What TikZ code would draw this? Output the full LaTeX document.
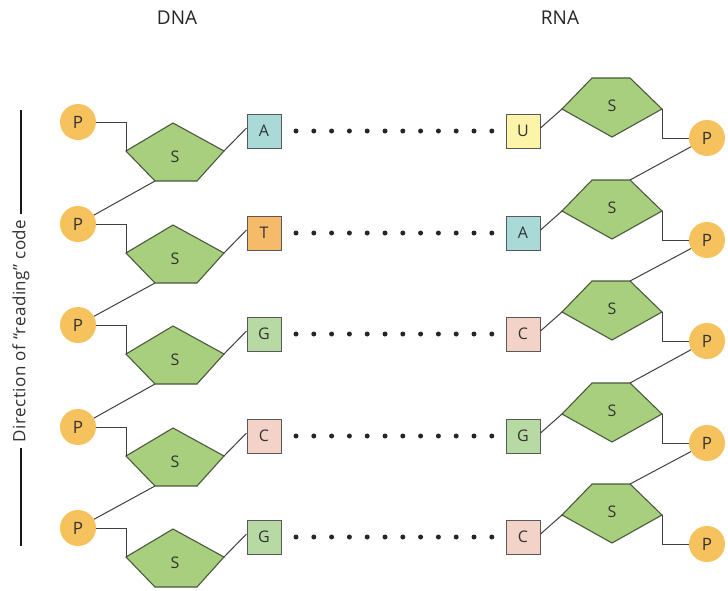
\documentclass[tikz,border=0pt]{standalone}
\usepackage{fontspec}
\setmainfont{Open Sans}
\begin{document}
\begin{tikzpicture}[x=1pt,y=-1pt,
  pcirc/.style={circle,fill=pOrange,minimum size=36pt,inner sep=0pt,font=\fontsize{17}{17}\selectfont,text=black!80},
  base/.style={draw=black!65,line width=1pt,minimum size=34pt,inner sep=0pt,font=\fontsize{16}{16}\selectfont,text=black!80},
  pent/.style={draw=pEdge,fill=pGreen,line width=1.1pt,line join=miter},
  slab/.style={font=\fontsize{16}{16}\selectfont,text=black!80},
  conn/.style={draw=black!75,line width=1pt},
  dotty/.style={circle,fill=black!85,inner sep=0pt,minimum size=5pt},
  title/.style={font=\fontsize{19}{19}\selectfont,text=black!85}
]
\definecolor{pOrange}{HTML}{F6C25E}
\definecolor{pGreen}{HTML}{A8CF7D}
\definecolor{pEdge}{HTML}{4A5A3E}
\definecolor{cA}{HTML}{A9DAD8}
\definecolor{cT}{HTML}{F5BA6A}
\definecolor{cG}{HTML}{B7D9A3}
\definecolor{cC}{HTML}{F3D3C7}
\definecolor{cU}{HTML}{FCF4A8}
\useasboundingbox (0,0) rectangle (728,590);
\fill[white] (0,0) rectangle (728,590);

\node[title] (dnaT) at (177,18) {DNA};
\node[title] (rnaT) at (560,18) {RNA};

% direction label
\node[rotate=90,font=\fontsize{17}{17}\selectfont\addfontfeature{LetterSpace=3},text=black!80,inner sep=5pt] (dir) at (21,331) {Direction of “reading” code};
\coordinate (dirTop) at (21,110);
\coordinate (dirBot) at (21,546);
\draw[line width=2pt,black!90] (dir.east) -- (dirTop);
\draw[line width=2pt,black!90] (dir.west) -- (dirBot);

% rows
\foreach \i/\B/\dn/\rn/\dc/\rc in {1/131/A/U/cA/cU, 2/233/T/A/cT/cA, 3/334/G/C/cG/cC, 4/436/C/G/cC/cG, 5/537/G/C/cG/cC}{
  % DNA side
  \node[pcirc] (dP\i) at (78,\B-9) {P};
  \coordinate (dT\i) at (173,\B-8);
  \coordinate (dR\i) at (224,\B+20);
  \coordinate (dBR\i) at (197,\B+50);
  \coordinate (dBL\i) at (155,\B+50);
  \coordinate (dL\i) at (126,\B+20);
  \path[pent] (dT\i) -- (dR\i) -- (dBR\i) -- (dBL\i) -- (dL\i) -- cycle;
  \node[slab] (dS\i) at (175,\B+26) {S};
  \node[base,fill=\dc] (dB\i) at (264,\B) {\dn};
  \draw[conn] (dP\i.east) -- (dP\i.east -| dL\i) -- (dL\i);
  \draw[conn] (dR\i) -- ([yshift=3pt]dB\i.west);
  % RNA side
  \node[base,fill=\rc] (rB\i) at (523,\B) {\rn};
  \coordinate (rTL\i) at (592,\B-53);
  \coordinate (rTR\i) at (630,\B-53);
  \coordinate (rR\i) at (662,\B-22);
  \coordinate (rBt\i) at (612,\B+6);
  \coordinate (rL\i) at (562,\B-22);
  \path[pent] (rTL\i) -- (rTR\i) -- (rR\i) -- (rBt\i) -- (rL\i) -- cycle;
  \node[slab] (rS\i) at (612,\B-25) {S};
  \node[pcirc] (rP\i) at (707,\B+7) {P};
  \draw[conn] ([yshift=3pt]rB\i.east) -- (rL\i);
  \draw[conn] (rR\i) -- (rR\i |- rP\i.west) -- (rP\i.west);
  % dots
  \foreach \k in {0,...,11}{
    \node[dotty] (dot\i-\k) at (296+17.8*\k,\B) {};
  }
}
% backbone links
\foreach \i/\j in {1/2,2/3,3/4,4/5}{
  \draw[conn] (dBL\i) -- (dP\j);
  \draw[conn] (rP\i) -- (rTR\j);
}
\end{tikzpicture}
\end{document}
